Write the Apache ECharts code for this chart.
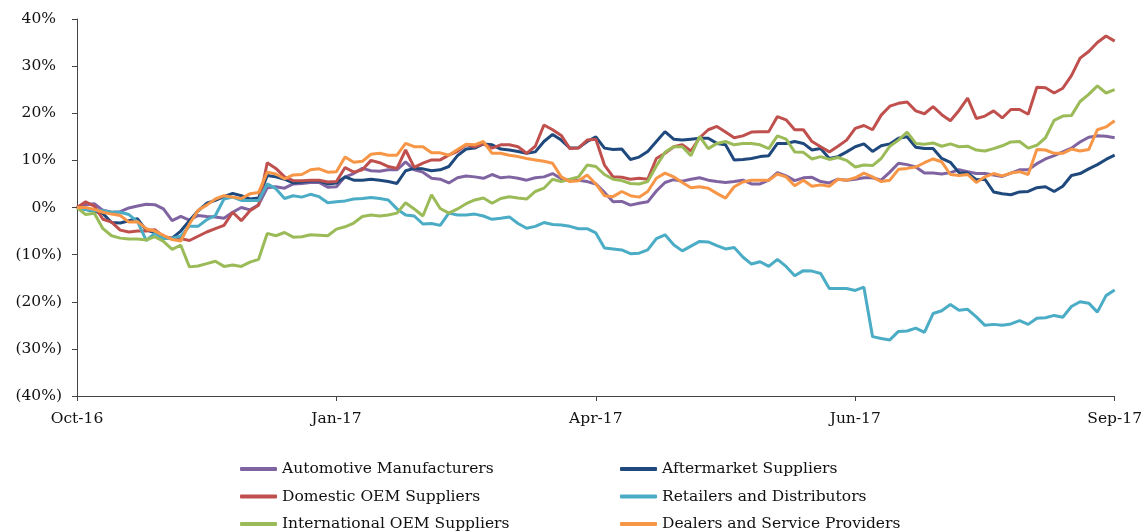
<!DOCTYPE html>
<html><head><meta charset="utf-8">
<script src="https://cdn.jsdelivr.net/npm/echarts@6/dist/echarts.min.js"></script>
<style>html,body{margin:0;padding:0;background:#fff}#c{width:1145px;height:532px}</style>
</head><body><div id="c"></div>
<script>
const tickLabels = ['Oct-16', 'Jan-17', 'Apr-17', 'Jun-17', 'Sep-17'];
const seriesNames = ['Automotive Manufacturers', 'Aftermarket Suppliers', 'Domestic OEM Suppliers',
  'Retailers and Distributors', 'International OEM Suppliers', 'Dealers and Service Providers'];

const automotive = [0, 0.6, 0.8, -0.6, -1.0, -0.9, -0.1, 0.3, 0.7, 0.6,
 -0.3, -2.8, -1.9, -2.7, -1.7, -1.9, -2.0, -2.3, -1.0, 0.0,
 -0.5, 0.6, 4.2, 4.4, 4.1, 5.0, 5.1, 5.3, 5.3, 4.3,
 4.4, 6.5, 7.2, 8.3, 7.8, 7.7, 8.0, 8.0, 9.7, 8.0,
 7.5, 6.2, 6.0, 5.2, 6.3, 6.7, 6.5, 6.2, 7.0, 6.3,
 6.5, 6.2, 5.8, 6.3, 6.5, 7.2, 6.1, 5.8, 5.8, 5.5,
 5.0, 3.2, 1.2, 1.3, 0.5, 0.9, 1.2, 3.5, 5.3, 5.9,
 5.6, 6.0, 6.3, 5.8, 5.5, 5.3, 5.5, 5.8, 5.0, 5.0,
 5.8, 7.4, 6.7, 5.7, 6.3, 6.4, 5.5, 5.2, 6.0, 5.8,
 6.0, 6.3, 6.3, 5.8, 7.5, 9.4, 9.1, 8.6, 7.3, 7.3,
 7.1, 7.4, 8.0, 7.6, 7.2, 7.2, 6.9, 6.6, 7.3, 8.0,
 8.0, 9.3, 10.3, 11.0, 11.8, 12.6, 13.9, 14.9, 15.2, 15.1,
 14.8];

const aftermarket = [0, -0.4, -0.8, -1.3, -3.2, -3.3, -2.8, -2.4, -4.8, -5.3,
 -6.4, -6.5, -5.0, -2.8, -0.7, 0.9, 1.5, 2.3, 3.0, 2.5,
 1.8, 2.0, 6.8, 6.5, 6.0, 5.2, 5.4, 5.6, 5.6, 5.0,
 5.2, 6.5, 5.8, 5.8, 6.0, 5.8, 5.5, 5.1, 7.8, 8.3,
 8.2, 7.8, 8.0, 8.7, 11.0, 12.4, 12.6, 13.5, 13.3, 12.4,
 12.2, 11.9, 11.5, 11.8, 14.0, 15.5, 14.3, 12.6, 12.7, 14.0,
 15.0, 12.6, 12.3, 12.4, 10.2, 10.7, 11.9, 14.0, 16.1, 14.5,
 14.3, 14.5, 14.7, 14.7, 13.6, 13.3, 10.1, 10.2, 10.4, 10.8,
 11.0, 13.6, 13.6, 14.0, 13.6, 12.2, 12.5, 10.4, 10.8, 11.8,
 12.9, 13.5, 11.9, 13.1, 13.5, 14.7, 15.0, 12.8, 12.5, 12.5,
 10.4, 9.6, 7.4, 7.3, 5.9, 6.0, 3.3, 2.9, 2.7, 3.3,
 3.4, 4.2, 4.4, 3.4, 4.5, 6.8, 7.2, 8.2, 9.1, 10.2,
 11.1];

const domestic = [0, 1.2, 0.3, -2.5, -3.1, -4.8, -5.2, -5.0, -5.0, -4.7,
 -6.2, -6.5, -6.6, -7.0, -6.1, -5.2, -4.5, -3.8, -1.0, -2.8,
 -0.7, 0.5, 9.5, 8.3, 6.5, 5.7, 5.7, 5.8, 5.8, 5.4,
 5.5, 8.5, 7.5, 8.0, 10.0, 9.5, 8.7, 8.3, 12.2, 8.5,
 9.4, 10.1, 10.1, 11.1, 11.9, 13.3, 12.9, 13.5, 12.6, 13.3,
 13.3, 12.9, 11.5, 13.0, 17.5, 16.5, 15.3, 12.5, 12.6, 14.3,
 14.5, 9.0, 6.5, 6.4, 6.0, 6.2, 6.0, 10.4, 11.5, 12.9,
 13.3, 12.0, 14.8, 16.5, 17.2, 16.0, 14.8, 15.2, 16.0, 16.1,
 16.1, 19.3, 18.6, 16.5, 16.5, 14.0, 12.9, 11.8, 13.0, 14.3,
 16.8, 17.4, 16.5, 19.6, 21.5, 22.1, 22.4, 20.5, 19.9, 21.4,
 19.7, 18.4, 20.6, 23.2, 18.9, 19.4, 20.5, 19.0, 20.8, 20.8,
 19.8, 25.5, 25.4, 24.3, 25.3, 28.0, 31.7, 33.1, 35.0, 36.4,
 35.3];

const retailers = [0, -0.5, -0.7, -0.7, -1.0, -1.0, -1.5, -3.0, -7.0, -5.5,
 -6.6, -6.5, -6.1, -4.0, -4.0, -2.6, -1.7, 1.8, 2.2, 1.5,
 1.5, 1.5, 5.0, 4.0, 1.9, 2.5, 2.2, 2.8, 2.3, 1.0,
 1.2, 1.4, 1.8, 1.9, 2.1, 1.9, 1.6, -0.3, -1.6, -1.8,
 -3.5, -3.4, -3.8, -1.2, -1.6, -1.6, -1.4, -1.8, -2.5, -2.3,
 -2.0, -3.4, -4.4, -4.0, -3.2, -3.6, -3.7, -4.0, -4.5, -4.5,
 -5.4, -8.6, -8.8, -9.0, -9.8, -9.7, -9.0, -6.6, -5.8, -7.9,
 -9.2, -8.2, -7.2, -7.3, -8.1, -8.8, -8.5, -10.5, -12.0, -11.5,
 -12.5, -11.0, -12.5, -14.5, -13.4, -13.5, -14.0, -17.2, -17.2, -17.2,
 -17.6, -16.9, -27.4, -27.8, -28.1, -26.3, -26.2, -25.6, -26.5, -22.5,
 -21.9, -20.6, -21.8, -21.6, -23.2, -25.0, -24.8, -25.0, -24.7, -24.0,
 -24.8, -23.5, -23.4, -22.9, -23.3, -21.0, -20.0, -20.3, -22.2, -18.7,
 -17.5];

const international = [0, -1.5, -1.2, -4.5, -6.0, -6.5, -6.7, -6.7, -6.9, -6.2,
 -7.2, -8.9, -8.0, -12.6, -12.4, -11.9, -11.4, -12.5, -12.2, -12.5,
 -11.6, -11.0, -5.5, -6.0, -5.3, -6.3, -6.2, -5.8, -5.9, -6.0,
 -4.6, -4.1, -3.3, -1.9, -1.6, -1.8, -1.6, -1.2, 1.0, -0.3,
 -1.8, 2.7, -0.2, -1.2, -0.3, 0.8, 1.6, 2.0, 0.9, 1.9,
 2.3, 2.0, 1.8, 3.4, 4.1, 6.0, 5.5, 6.0, 6.5, 9.0,
 8.7, 7.0, 6.0, 5.7, 5.1, 5.0, 5.5, 8.8, 11.7, 12.9,
 12.9, 11.0, 15.1, 12.5, 13.6, 14.0, 13.3, 13.6, 13.6, 13.3,
 12.5, 15.2, 14.5, 11.8, 11.7, 10.3, 10.8, 10.2, 10.6, 10.0,
 8.6, 9.0, 8.9, 10.4, 13.0, 14.3, 16.0, 13.6, 13.4, 13.7,
 13.0, 13.5, 12.9, 13.0, 12.2, 12.0, 12.5, 13.1, 13.9, 14.0,
 12.6, 13.2, 14.8, 18.5, 19.4, 19.5, 22.5, 24.0, 25.8, 24.3,
 25.0];

const dealers = [0, 0.0, -0.4, -1.0, -1.4, -1.7, -3.1, -3.0, -4.5, -5.0,
 -5.9, -6.8, -7.1, -3.5, -0.6, 0.5, 1.8, 2.5, 2.2, 1.9,
 2.9, 3.2, 7.5, 7.1, 6.1, 6.9, 7.0, 8.0, 8.2, 7.5,
 7.6, 10.7, 9.6, 9.8, 11.3, 11.5, 11.1, 11.1, 13.6, 12.9,
 12.9, 11.6, 11.6, 11.1, 12.3, 13.4, 13.3, 14.0, 11.5, 11.5,
 11.1, 10.8, 10.4, 10.1, 9.8, 9.4, 6.5, 5.5, 5.7, 6.9,
 5.0, 2.5, 2.3, 3.4, 2.5, 2.2, 3.4, 6.2, 7.3, 6.5,
 5.3, 4.2, 4.4, 4.1, 3.0, 2.0, 4.4, 5.4, 5.8, 5.8,
 5.8, 7.1, 6.5, 4.6, 5.8, 4.5, 4.8, 4.5, 6.0, 5.8,
 6.3, 7.3, 6.5, 5.5, 5.8, 8.1, 8.3, 8.6, 9.5, 10.3,
 9.7, 7.0, 6.8, 7.0, 5.3, 6.5, 7.2, 6.7, 7.3, 7.6,
 7.0, 12.3, 12.2, 11.5, 11.5, 12.4, 12.0, 12.3, 16.5, 17.1,
 18.4];

const seriesValues = [automotive, aftermarket, domestic, retailers, international, dealers];
const colors = ['#8064A2', '#1F497D', '#C0504D', '#4BACC6', '#9BBB59', '#F79646'];

const n = automotive.length;
const step = (n - 1) / (tickLabels.length - 1);
const categories = Array.from({length: n}, (_, i) => (i % step === 0 ? tickLabels[i / step] : 'd' + i));

const FONT = 'DejaVu Serif';
const legendText = {fontFamily: FONT, fontSize: 15.5, color: '#111', lineHeight: 20};

// legend: 2 columns x 3 rows, series order row-major
const legends = seriesNames.map((name, k) => ({
  data: [name], orient: 'horizontal',
  left: (k % 2 === 0) ? 240 : 620,
  top: 459 + Math.floor(k / 2) * 27.5,
  icon: 'roundRect', itemWidth: 37, itemHeight: 4, padding: 0,
  itemStyle: {borderRadius: 2},
  textStyle: legendText
}));

const chart = echarts.init(document.getElementById('c'), null, {renderer: 'canvas'});
chart.setOption({
  animation: false,
  backgroundColor: '#fff',
  grid: {left: 77, right: 28, top: 19, bottom: 136, containLabel: false},
  xAxis: {
    type: 'category', data: categories, boundaryGap: false,
    axisLine: {onZero: false, lineStyle: {color: '#444', width: 1}},
    axisTick: {show: true, interval: step - 1, length: 5, lineStyle: {color: '#444'}},
    axisLabel: {interval: step - 1, margin: 15, fontFamily: FONT, fontSize: 15.5, color: '#111',
      formatter: v => (tickLabels.indexOf(v) >= 0 ? v : '')},
    splitLine: {show: false}
  },
  yAxis: {
    type: 'value', min: -40, max: 40, interval: 10,
    axisLine: {show: true, lineStyle: {color: '#444', width: 1}},
    axisTick: {show: true, length: 5, lineStyle: {color: '#444'}},
    splitLine: {show: false},
    axisLabel: {margin: 15, fontFamily: FONT, fontSize: 15.5, color: '#111',
      formatter: v => v < 0 ? '(' + Math.abs(v) + '%)' : '{p|' + v + '%}',
      rich: {p: {fontFamily: FONT, fontSize: 15.5, color: '#111', padding: [0, 6, 0, 0]}}}
  },
  legend: legends,
  series: seriesValues.map((vals, k) => ({
    name: seriesNames[k], type: 'line', data: vals, showSymbol: false, symbol: 'none',
    lineStyle: {width: 3, color: colors[k]}, itemStyle: {color: colors[k]}
  }))
});
</script></body></html>
